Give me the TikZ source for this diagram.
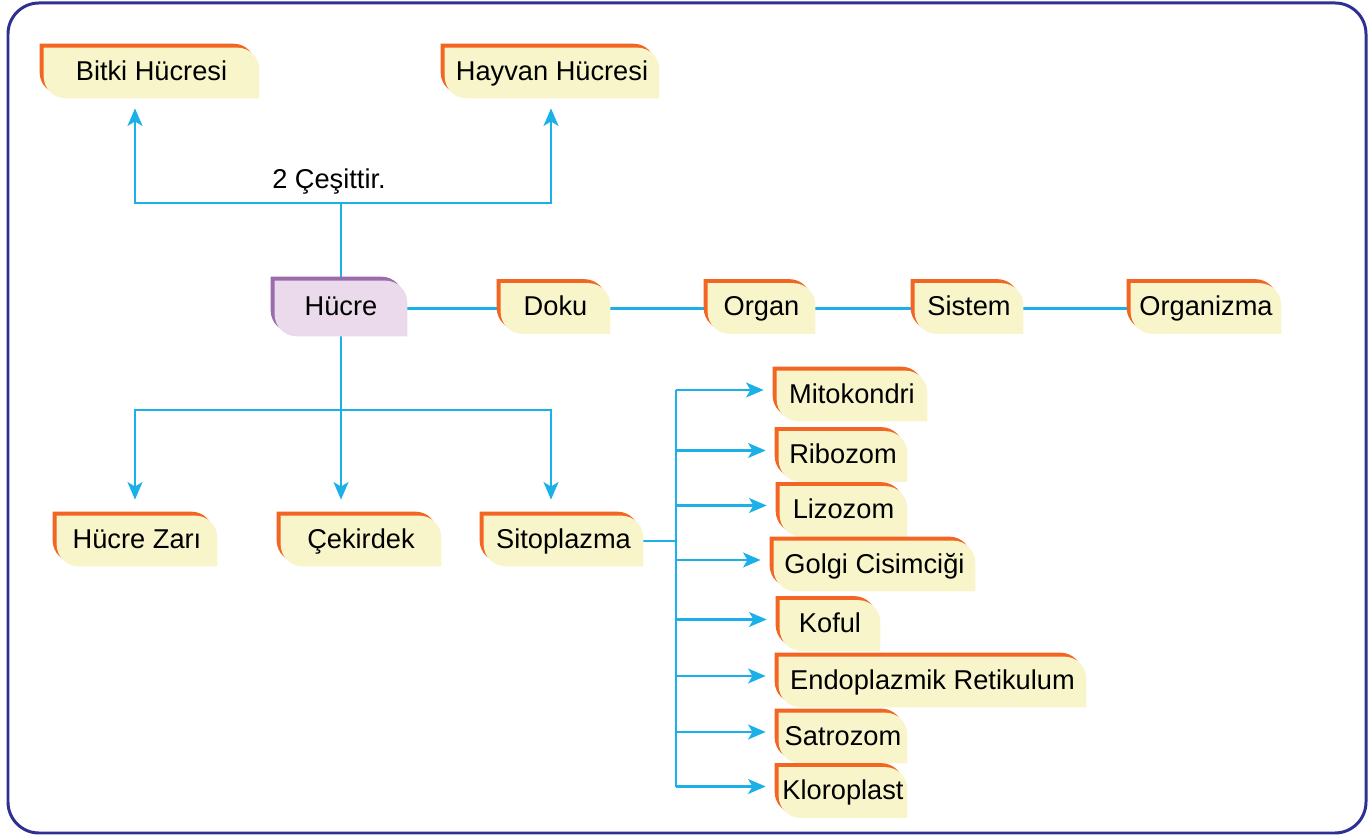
\documentclass[tikz,border=0pt]{standalone}
\usepackage{fontspec}
\setmainfont{Liberation Sans}
\usetikzlibrary{arrows.meta}
\definecolor{tagedge}{HTML}{F26522}
\definecolor{tagfill}{HTML}{F7F5C9}
\definecolor{celledge}{HTML}{9B6BAE}
\definecolor{cellfill}{HTML}{EBDAEB}
\definecolor{linkblue}{HTML}{1CB0E8}
\definecolor{frameblue}{HTML}{2E3192}
\pgfdeclarelayer{links}
\pgfdeclarelayer{boxes}
\pgfsetlayers{links,boxes,main}
\tikzset{
  tag/.style={inner sep=0pt, minimum height=1cm, text height=11.5pt, text depth=3.5pt,
    font=\fontsize{15.5}{18}\selectfont},
  boxw/.style={minimum width=#1*0.02cm},
  link/.style={linkblue, line width=1.15pt},
  arr/.style={link, -{Stealth[length=10pt,width=8.5pt,inset=2.5pt]}, shorten >=0.2cm}
}
\begin{document}
\begin{tikzpicture}[x=0.02cm, y=0.02cm]
    \useasboundingbox (0,0) rectangle (1370,-837);
    \draw[frameblue, line width=1.7pt, rounded corners=0.62cm] (8,-3) rectangle (1366,-833);
    \node[tag, boxw=215] (bitki) at (151.5,-73) {Bitki Hücresi\hspace{18pt}};
    \node[tag, boxw=214] (hayvan) at (552,-73) {Hayvan Hücresi};
    \node[tag] (kind) at (329,-181) {2 Çeşittir.};
    \node[tag, boxw=132, minimum height=1.1cm] (hucre) at (341,-308.5) {Hücre};
    \node[tag, boxw=109] (doku) at (555.5,-308.5) {Doku};
    \node[tag, boxw=107] (organ) at (761.5,-308.5) {Organ};
    \node[tag, boxw=108] (sistem) at (969,-308.5) {Sistem};
    \node[tag, boxw=150] (organizma) at (1206,-308.5) {Organizma};
    \node[tag, boxw=160] (zar) at (137,-541) {Hücre Zarı};
    \node[tag, boxw=160] (cekirdek) at (361,-541) {Çekirdek};
    \node[tag, boxw=159] (sito) at (563.5,-541) {Sitoplazma};
    \node[tag, boxw=150] (mito) at (852,-396) {Mitokondri};
    \node[tag, boxw=128] (ribo) at (843,-456.5) {Ribozom};
    \node[tag, boxw=127] (lizo) at (843.5,-511.5) {Lizozom};
    \node[tag, boxw=201] (golgi) at (874.5,-566) {Golgi Cisimciği};
    \node[tag, boxw=100] (koful) at (830,-625.5) {Koful};
    \node[tag, boxw=307] (endo) at (932.5,-682) {Endoplazmik Retikulum};
    \node[tag, boxw=128] (satro) at (843,-738) {Satrozom};
    \node[tag, boxw=128] (kloro) at (843,-792.5) {Kloroplast};
    % tag backgrounds
    \begin{pgfonlayer}{boxes}
    \foreach \n/\ec/\fc in {bitki/tagedge/tagfill, hayvan/tagedge/tagfill, hucre/celledge/cellfill,
        doku/tagedge/tagfill, organ/tagedge/tagfill, sistem/tagedge/tagfill, organizma/tagedge/tagfill,
        zar/tagedge/tagfill, cekirdek/tagedge/tagfill, sito/tagedge/tagfill, mito/tagedge/tagfill,
        ribo/tagedge/tagfill, lizo/tagedge/tagfill, golgi/tagedge/tagfill, koful/tagedge/tagfill,
        endo/tagedge/tagfill, satro/tagedge/tagfill, kloro/tagedge/tagfill} {
      \fill[\ec] ([xshift=-0.08cm,yshift=0.08cm]\n.north west) -- ([xshift=-0.52cm,yshift=0.08cm]\n.north east)
        arc[start angle=90,end angle=0,radius=0.44cm] -- ([xshift=-0.08cm,yshift=0.08cm]\n.south east)
        -- ([xshift=0.36cm,yshift=0.08cm]\n.south west) arc[start angle=270,end angle=180,radius=0.44cm] -- cycle;
      \fill[\fc] (\n.north west) -- ([xshift=-0.44cm]\n.north east)
        arc[start angle=90,end angle=0,radius=0.44cm] -- (\n.south east)
        -- ([xshift=0.44cm]\n.south west) arc[start angle=270,end angle=180,radius=0.44cm] -- cycle;
    }
    \end{pgfonlayer}
    % connectors
    \begin{pgfonlayer}{links}
    \coordinate (lcol) at (135,0);
    \coordinate (rcol) at (551,0);
    \coordinate (up) at (341,-203);
    \coordinate (down) at (341,-410);
    \coordinate (bus) at (676,-541);
    \draw[link] (hucre.north) -- (up);
    \draw[arr] (up) -| (bitki.south -| lcol);
    \draw[arr] (up) -| (hayvan.south -| rcol);
    \draw[link] (hucre.south) -- (down);
    \draw[arr, shorten >=0.32cm] (down) -- (cekirdek.north -| down);
    \draw[arr, shorten >=0.32cm] (down) -| (zar.north -| lcol);
    \draw[arr, shorten >=0.32cm] (down) -| (sito.north -| rcol);
    \draw[link] (hucre) -- (doku);
    \draw[link] (doku) -- (organ);
    \draw[link] (organ) -- (sistem);
    \draw[link] (sistem) -- (organizma);
    \draw[link] (sito) -- (bus);
    \draw[link] ([yshift=0.12cm]bus |- mito) -- ([yshift=0.12cm]bus |- kloro);
    \foreach \n in {mito,ribo,lizo,golgi,koful,endo,satro,kloro}
      \draw[arr, shorten >=0.26cm] ([yshift=0.12cm]bus |- \n.west) -- ([yshift=0.12cm]\n.west);
    \end{pgfonlayer}
\end{tikzpicture}
\end{document}
